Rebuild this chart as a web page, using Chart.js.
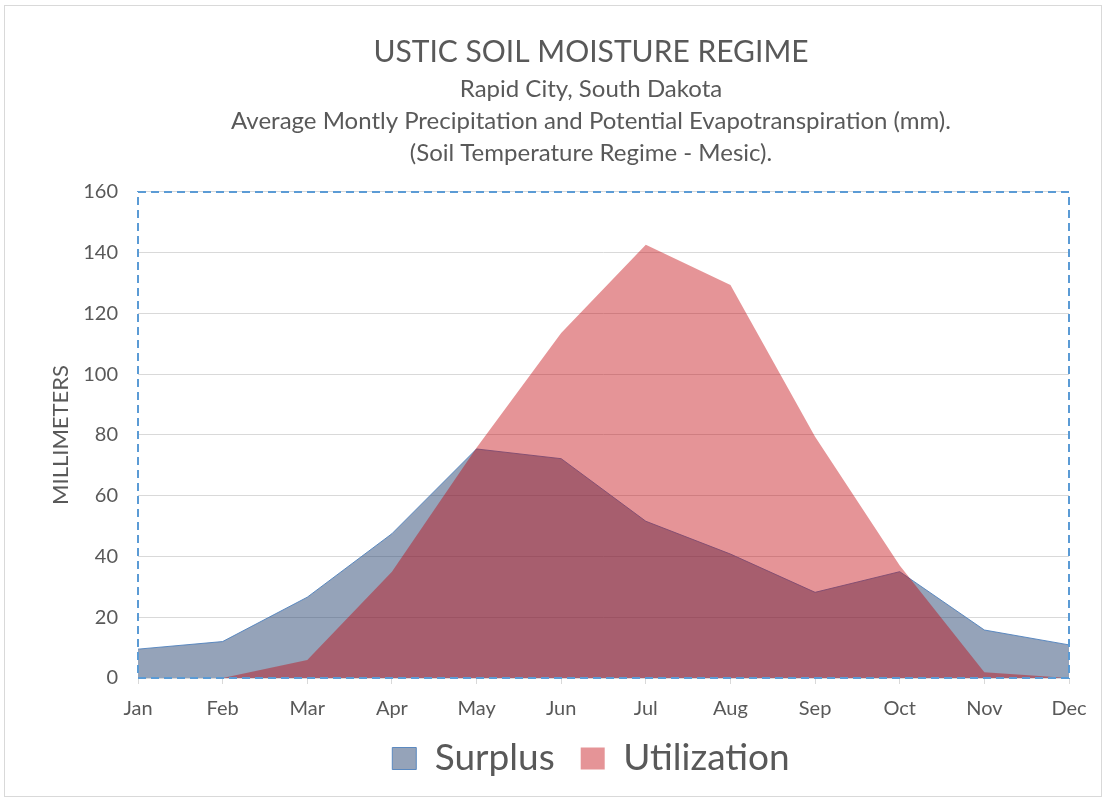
<!DOCTYPE html>
<html>
<head>
<meta charset="utf-8">
<script src="https://cdn.jsdelivr.net/npm/chart.js@4/dist/chart.umd.min.js"></script>
<style>
  html, body { margin: 0; padding: 0; background: #fff; overflow: hidden; }
  #wrap { width: 1106px; height: 801px; position: relative; }
</style>
</head>
<body>
<div id="wrap"><canvas id="soilChart" width="1106" height="801"></canvas></div>
<script>
// monthly values (mm)
const months = ['Jan', 'Feb', 'Mar', 'Apr', 'May', 'Jun', 'Jul', 'Aug', 'Sep', 'Oct', 'Nov', 'Dec'];
const surplus = [9.5, 12, 26.6, 47.5, 75.4, 72.2, 51.6, 40.8, 28.2, 35, 15.8, 10.9];
const utilization = [0, 0, 5.9, 35, 75.8, 113.6, 142.6, 129.4, 79.4, 37, 1.9, 0];

const titleText = 'USTIC SOIL MOISTURE REGIME';
const subtitleLines = [
    'Rapid City, South Dakota',
    'Average Montly Precipitation and Potential Evapotranspiration (mm).',
    '(Soil Temperature Regime - Mesic).'
];

const fontFamily = 'Lato, "Open Sans", sans-serif';
const textColor = '#595959';

// outer frame + dashed plot border, like the excel original
const framePlugin = {
    id: 'frame',
    afterLayout: (chart) => {
        // axes are squeezed in fit() so the titles/legend sit where the original has them;
        // widen their label clip boxes again so nothing gets cut off
        chart.scales.y.left = 0;
        chart.scales.x.bottom = chart.height;
    },
    beforeDraw: (chart) => {
        const ctx = chart.ctx;
        ctx.save();
        ctx.fillStyle = '#fff';
        ctx.fillRect(0, 0, chart.width, chart.height);
        ctx.strokeStyle = '#d9d9d9';
        ctx.lineWidth = 1;
        ctx.strokeRect(4.5, 5.5, chart.width - 9, chart.height - 10);
        ctx.restore();
    },
    afterDatasetsDraw: (chart) => {
        const a = chart.chartArea;
        const ctx = chart.ctx;
        ctx.save();
        ctx.strokeStyle = '#5b9bd5';
        ctx.lineWidth = 2;
        ctx.setLineDash([8, 5]);
        ctx.strokeRect(a.left, a.top, a.right - a.left, a.bottom - a.top);
        ctx.restore();
    }
};

new Chart(document.getElementById('soilChart'), {
    type: 'line',
    data: {
        labels: months,
        datasets: [
            {
                label: 'Surplus',
                data: surplus,
                order: 1,
                fill: 'origin',
                backgroundColor: 'rgba(43, 71, 115, 0.5)',
                borderColor: 'rgba(79, 129, 189, 0.9)',
                borderWidth: 1,
                pointRadius: 0,
                tension: 0
            },
            {
                label: 'Utilization',
                data: utilization,
                order: 0,
                fill: 'origin',
                backgroundColor: 'rgba(192, 0, 6, 0.42)',
                borderColor: 'rgba(192, 0, 6, 0)',
                borderWidth: 0,
                pointRadius: 0,
                tension: 0
            }
        ]
    },
    options: {
        responsive: false,
        animation: false,
        devicePixelRatio: 1,
        // left padding keeps titles/legend centred near x=591 like the original
        layout: { padding: { left: 113, right: 37, top: 0, bottom: 14 } },
        plugins: {
            tooltip: { enabled: false },
            title: {
                display: true,
                text: titleText,
                color: textColor,
                font: { family: fontFamily, size: 30, weight: 'normal' },
                padding: { top: 34, bottom: 3 }
            },
            subtitle: {
                display: true,
                text: subtitleLines,
                color: textColor,
                font: { family: fontFamily, size: 24, lineHeight: 1.333 },
                padding: { top: 0, bottom: 23 }
            },
            legend: {
                position: 'bottom',
                labels: {
                    color: textColor,
                    font: { family: fontFamily, size: 37 },
                    boxWidth: 24,
                    boxHeight: 22,
                    padding: 26,
                    sort: (a, b) => a.datasetIndex - b.datasetIndex
                }
            }
        },
        scales: {
            x: {
                offset: false,
                afterFit: (scale) => { scale.height = 36; },
                grid: {
                    display: true,
                    drawOnChartArea: false,
                    drawTicks: true,
                    tickLength: 6,
                    color: '#d9d9d9'
                },
                border: { display: true, color: '#d9d9d9' },
                ticks: {
                    color: textColor,
                    font: { family: fontFamily, size: 20 },
                    padding: 13,
                    maxRotation: 0
                }
            },
            y: {
                min: 0,
                max: 160,
                afterFit: (scale) => { scale.width = 25; },
                grid: { color: '#d9d9d9', drawTicks: false },
                border: { display: false },
                ticks: {
                    stepSize: 20,
                    color: textColor,
                    font: { family: fontFamily, size: 20 },
                    padding: 20
                },
                title: {
                    display: true,
                    text: 'MILLIMETERS',
                    color: textColor,
                    font: { family: fontFamily, size: 22 },
                    padding: { top: 48, bottom: 0 }
                }
            }
        }
    },
    plugins: [framePlugin]
});
</script>
</body>
</html>
